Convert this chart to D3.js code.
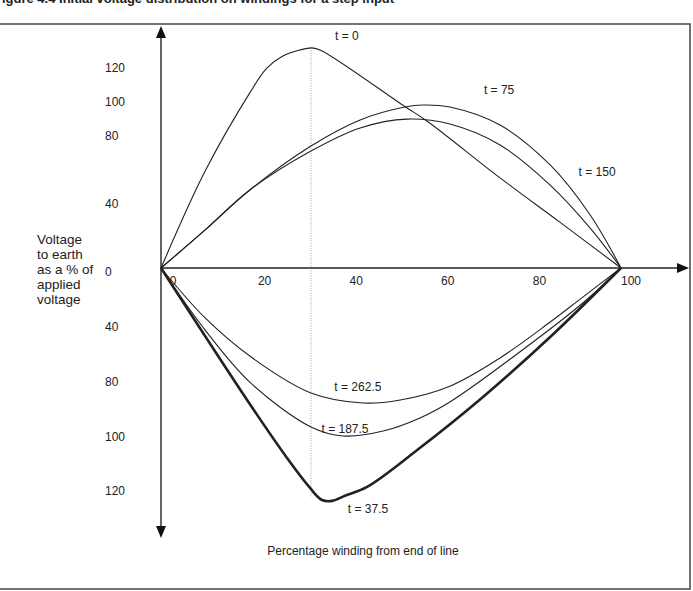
<!DOCTYPE html>
<html>
<head>
<meta charset="utf-8">
<script src="https://cdn.jsdelivr.net/npm/d3@7"></script>
<style>
  body { margin: 0; background: #fff; }
  text { font-family: "Liberation Sans", Arial, sans-serif; fill: #222; }
</style>
</head>
<body>
<div id="chart"></div>
<script>
// percentage of winding (x) and voltage to earth in % (v) for each curve
const windingT0 = [0, 9.6, 19.3, 23, 26.5, 30.2, 32.8, 34.8, 53, 57.8, 73.7, 86.7, 100];
const voltageT0 = [0, 57, 103, 117.6, 124.7, 128.2, 129.5, 128, 95, 86.5, 53, 27, 0];

const windingT75 = [0, 9.6, 19.3, 32.6, 43.3, 53, 57, 62.8, 73.7, 84.6, 93.3, 100];
const voltageT75 = [0, 22.4, 45.9, 71.8, 87.1, 94.7, 95.9, 94.7, 84.1, 60.6, 31.2, 0];

const windingT150 = [0, 9.6, 19.3, 32.6, 43.3, 53.5, 62.8, 73.7, 84.6, 93.3, 100];
const voltageT150 = [0, 22.4, 45.9, 68.8, 82.4, 87.6, 84.7, 72.4, 48.8, 23.5, 0];

const windingT262 = [0, 9.6, 19.3, 32.6, 43.9, 52, 62.8, 73.7, 84.6, 91.7, 100];
const voltageT262 = [0, -29.4, -51.8, -73.5, -79.4, -77.6, -69.5, -52.9, -31.8, -17.1, 0];

const windingT187 = [0, 9.6, 19.3, 32.6, 39.6, 48.3, 56.3, 62.8, 77.4, 91.7, 100];
const voltageT187 = [0, -36.5, -67.1, -93.5, -98.8, -95.9, -88.2, -78.8, -50.6, -20.6, 0];

const windingT37 = [0, 19.3, 28, 32.4, 35, 37.2, 40, 44.8, 55.7, 70, 84.6, 100];
const voltageT37 = [0, -80, -114, -129.4, -136.5, -137, -134, -128.8, -107.1, -75.9, -40.6, 0];

const curveLabels = ["t = 0", "t = 75", "t = 150", "t = 187.5", "t = 262.5", "t = 37.5"];

const xTickLabels = ["0", "20", "40", "60", "80", "100"];
const yTicksUpper = [120, 100, 80, 40, 0];
const yTicksLower = ["40", "80", "100", "120"];

const yTitle = ["Voltage", "to earth", "as a % of", "applied", "voltage"];
const xTitle = "Percentage winding from end of line";
const figTitle = "Figure 4.4 Initial voltage distribution on windings for a step input";

const W = 693, H = 591;

const svg = d3.select("#chart").append("svg")
    .attr("width", W)
    .attr("height", H);

const x = d3.scaleLinear().domain([0, 100]).range([161, 621]);
const y = d3.scaleLinear().domain([0, 100]).range([268, 98]);

// caption, cut by the top of the scan
svg.append("text")
    .attr("x", -6)
    .attr("y", 3)
    .style("font-weight", "bold")
    .style("font-size", "13px")
    .text(figTitle);

// frame (no left edge)
svg.append("path")
    .attr("d", `M0,24 H690 V589 H0`)
    .attr("fill", "none")
    .attr("stroke", "#444")
    .attr("stroke-width", 1.5);

// dotted guide through the t=0 peak
svg.append("line")
    .attr("x1", x(32.6)).attr("x2", x(32.6))
    .attr("y1", y(129.5)).attr("y2", y(-135))
    .attr("stroke", "#888")
    .attr("stroke-width", 0.8)
    .attr("stroke-dasharray", "1,1.5");

// axes with arrow heads
svg.append("line")
    .attr("x1", x(0)).attr("x2", x(0))
    .attr("y1", 30).attr("y2", 534)
    .attr("stroke", "#111").attr("stroke-width", 1.3);
svg.append("line")
    .attr("x1", x(0)).attr("x2", 684)
    .attr("y1", y(0)).attr("y2", y(0))
    .attr("stroke", "#222").attr("stroke-width", 1.3);

const arrow = (px, py, dir) => {
    const s = 5, l = 12;
    let pts;
    if (dir === "up") pts = [[px, py], [px - s, py + l], [px + s, py + l]];
    if (dir === "down") pts = [[px, py], [px - s, py - l], [px + s, py - l]];
    if (dir === "right") pts = [[px, py], [px - l, py - s], [px - l, py + s]];
    svg.append("path")
        .attr("d", d3.line()(pts) + "Z")
        .attr("fill", "#111");
};
arrow(x(0), 26, "up");
arrow(x(0), 538, "down");
arrow(689, y(0), "right");

// curves
const line = d3.line()
    .x(d => x(d[0]))
    .y(d => y(d[1]))
    .curve(d3.curveCatmullRom.alpha(0.5));

const series = [
    [windingT0, voltageT0, 1.1],
    [windingT75, voltageT75, 1.1],
    [windingT150, voltageT150, 1.1],
    [windingT187, voltageT187, 1.1],
    [windingT262, voltageT262, 1.1],
    [windingT37, voltageT37, 2.6]
];
series.forEach(([xs, vs, sw]) => {
    svg.append("path")
        .datum(xs.map((d, i) => [d, vs[i]]))
        .attr("fill", "none")
        .attr("stroke", "#222")
        .attr("stroke-width", sw)
        .attr("stroke-linejoin", "round")
        .attr("d", line);
});

// curve labels, placed in data units
const labelAt = [[40.4, 136.5], [73.5, 104.7], [94.8, 56.5], [40, -94.7], [42.8, -70], [45, -141.8]];
curveLabels.forEach((t, i) => {
    svg.append("text")
        .attr("x", x(labelAt[i][0]))
        .attr("y", y(labelAt[i][1]))
        .attr("dy", "0.35em")
        .attr("text-anchor", "middle")
        .style("font-size", "12px")
        .text(t);
});

// x tick labels (drawn unevenly in the original, so spread along a point scale)
const xLab = d3.scalePoint().domain(xTickLabels).range([173, 631]);
svg.selectAll(".xt")
    .data(xTickLabels)
    .enter().append("text")
    .attr("class", "xt")
    .attr("x", d => xLab(d))
    .attr("y", 281)
    .attr("dy", "0.35em")
    .attr("text-anchor", "middle")
    .style("font-size", "12px")
    .text(d => d);

// y tick labels
svg.selectAll(".yu")
    .data(yTicksUpper)
    .enter().append("text")
    .attr("class", "yu")
    .attr("x", 105)
    .attr("y", d => y(d) + 4)
    .attr("dy", "0.35em")
    .style("font-size", "12px")
    .text(d => d);

const yLow = d3.scalePoint().domain(yTicksLower).range([327, 491]);
svg.selectAll(".yl")
    .data(yTicksLower)
    .enter().append("text")
    .attr("class", "yl")
    .attr("x", 105)
    .attr("y", d => yLow(d))
    .attr("dy", "0.35em")
    .style("font-size", "12px")
    .text(d => d);

// axis titles
svg.append("text")
    .style("font-size", "13.5px")
    .selectAll("tspan")
    .data(yTitle)
    .enter().append("tspan")
    .attr("x", 37)
    .attr("y", (d, i) => 244 + i * 15)
    .text(d => d);

svg.append("text")
    .attr("x", 363)
    .attr("y", 551)
    .attr("dy", "0.35em")
    .attr("text-anchor", "middle")
    .style("font-size", "12px")
    .text(xTitle);
</script>
</body>
</html>
